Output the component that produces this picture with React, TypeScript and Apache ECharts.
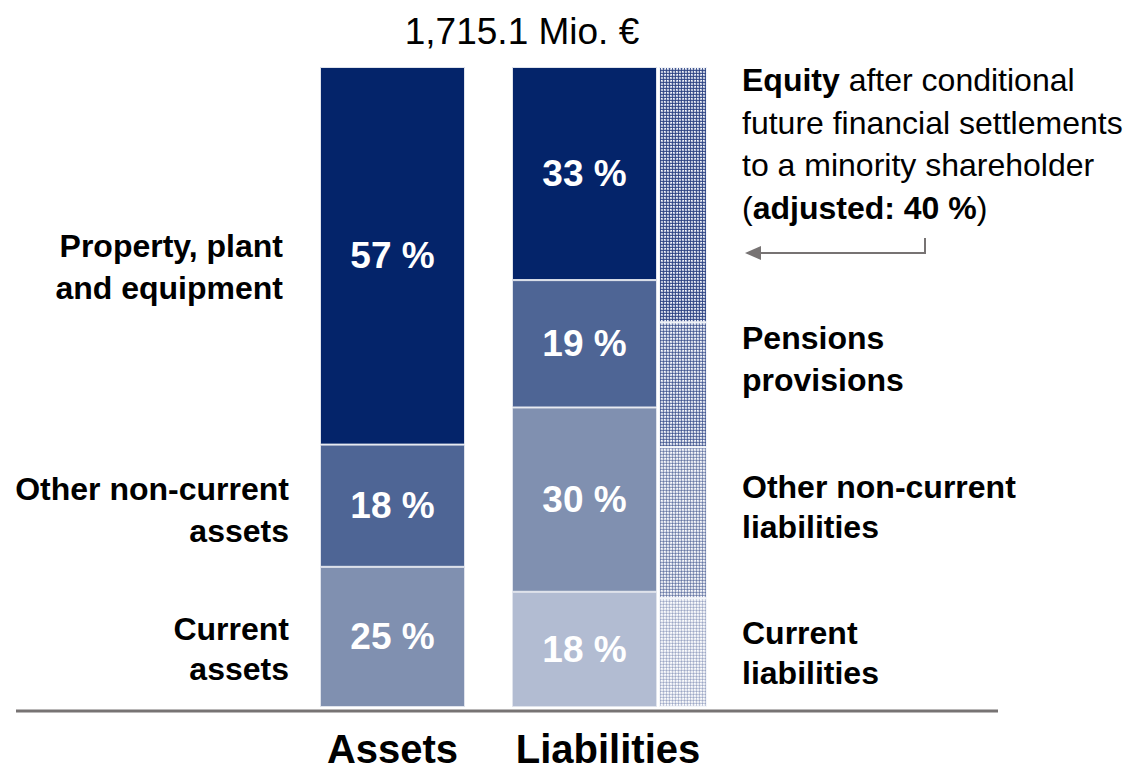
import React, { useEffect, useRef } from "react";
import * as echarts from "echarts";

const columns = ["Assets", "Liabilities"];
const totalLabel = "1,715.1 Mio. €";

// bottom -> top
const assetCats = ["Current assets", "Other non-current assets", "Property, plant and equipment"];
const assetShares = [21.9, 19.1, 59.0];
const assetLabels = ["25 %", "18 %", "57 %"];

const liabCats = ["Current liabilities", "Other non-current liabilities", "Pensions provisions", "Equity"];
const liabShares = [18.0, 28.8, 19.9, 33.3];
const liabLabels = ["18 %", "30 %", "19 %", "33 %"];

const adjustedCats = ["Current liabilities", "Other non-current liabilities", "Pensions provisions", "Equity (adjusted)"];
const adjustedShares = [17.0, 23.6, 19.5, 39.9];

const FONT = "'Liberation Sans', Arial, Helvetica, sans-serif";
const assetColors = ["#8090b0", "#4e6595", "#04246a"];
const liabColors = ["#b2bcd2", "#8090b0", "#4e6595", "#04246a"];
const patternDensity = [0.28, 0.5, 0.72, 1.0];
const SEP = "#dfe3ec";

function makePattern(d: number) {
  const c = document.createElement("canvas");
  c.width = 6;
  c.height = 6;
  const ctx = c.getContext("2d")!;
  ctx.fillStyle = "#ffffff";
  ctx.fillRect(0, 0, 6, 6);
  ctx.fillStyle = `rgba(60,84,146,${0.35 * d})`;
  ctx.fillRect(0, 0, 6, 6);
  ctx.fillStyle = `rgba(40,62,128,${0.8 * d})`;
  ctx.fillRect(0, 0, 1, 6);
  ctx.fillRect(3, 0, 1, 6);
  ctx.fillRect(0, 1, 6, 1);
  ctx.fillRect(0, 4, 6, 1);
  ctx.fillStyle = "rgba(255,255,255,0.9)";
  ctx.fillRect(1, 2, 1, 1);
  ctx.fillRect(4, 5, 1, 1);
  ctx.fillRect(5, 2, 1, 1);
  return { image: c, repeat: "repeat" };
}

export default function App() {
  const ref = useRef<HTMLDivElement>(null);
  useEffect(() => {
    if (!ref.current) return;
    const chart = echarts.init(ref.current, undefined, { renderer: "svg" });
    const pctLabel = (text: string) => ({
      show: true,
      position: "inside",
      formatter: text,
      color: "#ffffff",
      fontSize: 37,
      fontWeight: "bold",
      fontFamily: FONT,
    });
    const series: any[] = [];
    assetShares.forEach((v, i) => {
      series.push({
        name: assetCats[i],
        type: "bar",
        stack: "total",
        xAxisIndex: 0,
        yAxisIndex: 0,
        barWidth: 145,
        data: [v, "-"],
        itemStyle: { color: assetColors[i], borderColor: SEP, borderWidth: 1 },
        label: pctLabel(assetLabels[i]),
      });
    });
    liabShares.forEach((v, i) => {
      series.push({
        name: liabCats[i],
        type: "bar",
        stack: "total",
        xAxisIndex: 0,
        yAxisIndex: 0,
        barWidth: 145,
        data: ["-", v],
        itemStyle: { color: liabColors[i], borderColor: SEP, borderWidth: 1 },
        label: pctLabel(liabLabels[i]),
      });
    });
    adjustedShares.forEach((v, i) => {
      series.push({
        name: adjustedCats[i],
        type: "bar",
        stack: "adj",
        xAxisIndex: 1,
        yAxisIndex: 1,
        barWidth: 48,
        data: [v],
        itemStyle: { color: makePattern(patternDensity[i]), borderColor: "#f4f6fa", borderWidth: 1 },
      });
    });

    const boldText = (text: string, x: number, y: number, align: string, lh: number) => ({
      type: "text",
      x,
      y,
      style: {
        text,
        fontSize: 32,
        fontWeight: "bold",
        fontFamily: FONT,
        fill: "#000",
        align,
        verticalAlign: "middle",
        lineHeight: lh,
      },
    });

    chart.setOption({
      animation: false,
      backgroundColor: "#ffffff",
      grid: [
        { left: 296.5, width: 384, top: 67, bottom: 63 },
        { left: 659, width: 48, top: 67, bottom: 63 },
      ],
      xAxis: [
        {
          type: "category",
          gridIndex: 0,
          data: columns,
          axisLine: { show: false },
          axisTick: { show: false },
          axisLabel: {
            margin: 22,
            formatter: (v: string) => (v === "Liabilities" ? `{l|${v}}` : `{a|${v}}`),
            rich: {
              a: { fontSize: 40, lineHeight: 40, fontWeight: "bold", fontFamily: FONT, color: "#000" },
              l: { fontSize: 40, lineHeight: 40, fontWeight: "bold", fontFamily: FONT, color: "#000", padding: [0, 0, 0, 47] },
            },
          },
        },
        {
          type: "category",
          gridIndex: 1,
          data: ["adjusted"],
          show: false,
        },
      ],
      yAxis: [
        { type: "value", gridIndex: 0, min: 0, max: 100, show: false },
        { type: "value", gridIndex: 1, min: 0, max: 100, show: false },
      ],
      series,
      graphic: [
        {
          type: "text",
          x: 522,
          y: 31,
          style: {
            text: totalLabel,
            fontSize: 37,
            fontFamily: FONT,
            fill: "#000",
            align: "center",
            verticalAlign: "middle",
          },
        },
        {
          type: "line",
          shape: { x1: 16, y1: 711, x2: 998, y2: 711 },
          style: { stroke: "#777373", lineWidth: 3 },
        },
        boldText("Property, plant\nand equipment", 283, 267, "right", 42),
        boldText("Other non-current\nassets", 289, 510, "right", 42),
        boldText("Current\nassets", 289, 649, "right", 40),
        boldText("Pensions\nprovisions", 742, 359, "left", 42),
        boldText("Other non-current\nliabilities", 742, 507, "left", 40),
        boldText("Current\nliabilities", 742, 653, "left", 40),
        {
          type: "text",
          x: 742,
          y: 59,
          style: {
            text: "{b|Equity} after conditional\nfuture financial settlements\nto a minority shareholder\n({b|adjusted: 40 %})",
            fontSize: 32,
            fontFamily: FONT,
            fill: "#000",
            align: "left",
            verticalAlign: "top",
            lineHeight: 42.5,
            rich: {
              b: { fontSize: 32, fontWeight: "bold", fontFamily: FONT, fill: "#000", lineHeight: 42.5 },
            },
          },
        },
        {
          type: "polyline",
          shape: { points: [[925, 238], [925, 253], [758, 253]] },
          style: { stroke: "#777373", lineWidth: 2, fill: null },
        },
        {
          type: "polygon",
          shape: { points: [[745, 253], [761, 246], [761, 260]] },
          style: { fill: "#777373" },
        },
      ],
    });
    return () => chart.dispose();
  }, []);
  return (
    <div
      ref={ref}
      style={{ position: "fixed", left: 0, top: 0, width: 1127, height: 770 }}
    />
  );
}
